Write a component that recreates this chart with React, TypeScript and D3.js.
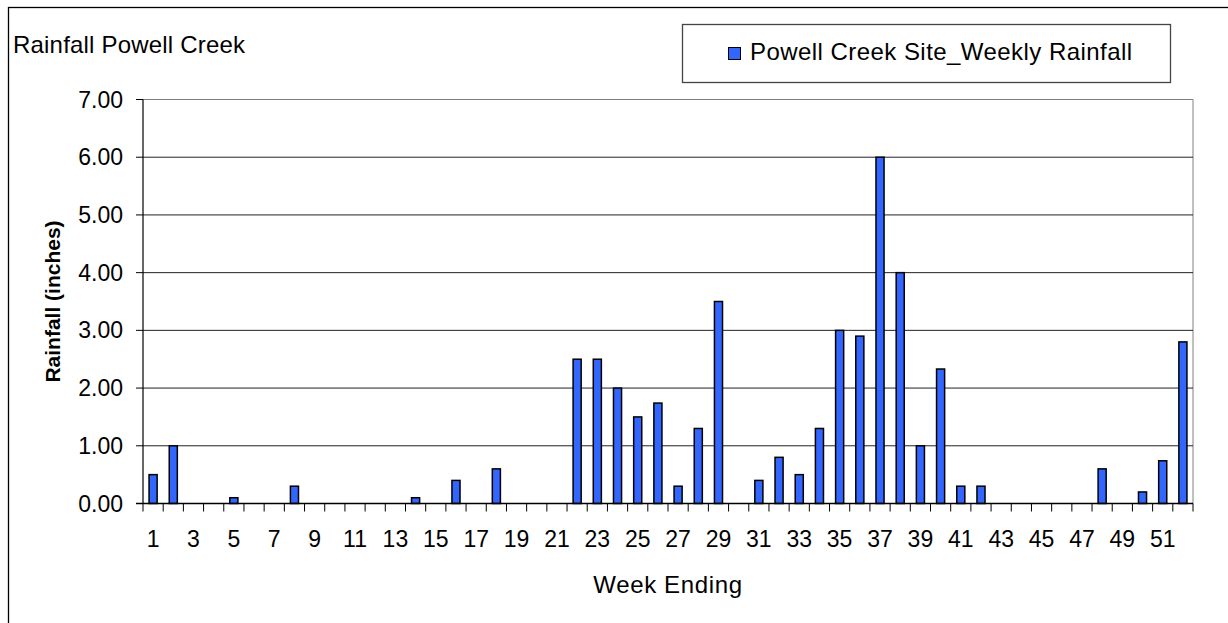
import React from 'react';
import * as d3 from 'd3';

const weeks: number[] = [1,2,3,4,5,6,7,8,9,10,11,12,13,14,15,16,17,18,19,20,21,22,23,24,25,26,27,28,29,30,31,32,33,34,35,36,37,38,39,40,41,42,43,44,45,46,47,48,49,50,51,52];
const rainfall: number[] = [0.5,1.0,0,0,0.1,0,0,0.3,0,0,0,0,0,0.1,0,0.4,0,0.6,0,0,0,2.5,2.5,2.0,1.5,1.74,0.3,1.3,3.5,0,0.4,0.8,0.5,1.3,3.0,2.9,6.0,4.0,1.0,2.33,0.3,0.3,0,0,0,0,0,0.6,0,0.2,0.74,2.8];
const yTicks: number[] = [0,1,2,3,4,5,6,7];
const xLabelWeeks: number[] = [1,3,5,7,9,11,13,15,17,19,21,23,25,27,29,31,33,35,37,39,41,43,45,47,49,51];

const title = 'Rainfall Powell Creek';
const seriesName = 'Powell Creek Site_Weekly Rainfall';
const xTitle = 'Week Ending';
const yTitle = 'Rainfall (inches)';

const W = 1228, H = 623;
const left = 143, right = 1193, top = 99.5, bottom = 503.5;
const font = '"Liberation Sans", Arial, sans-serif';
const FS = 23;
const barColor = '#3366FF';

export default function App() {
  const x = d3.scaleBand<number>().domain(weeks).range([left, right]).paddingInner(0.6).paddingOuter(0.3);
  const y = d3.scaleLinear().domain([0, 7]).range([bottom, top]);
  const step = x.step();
  const bw = x.bandwidth();
  const boundaries = d3.range(weeks.length + 1).map(i => left + i * step);

  return (
    <svg width={W} height={H} style={{ position: 'absolute', left: 0, top: 0, background: '#fff' }}>
      <rect x={8.5} y={7.5} width={1400} height={800} fill="#fff" stroke="#000" strokeWidth={1.3} />
      <text x={13} y={53} fontFamily={font} fontSize={24} letterSpacing={0.2} fill="#000">{title}</text>

      {/* legend */}
      <rect x={682.5} y={24.5} width={488} height={58} fill="#fff" stroke="#444" strokeWidth={1.3} />
      <rect x={728.5} y={47.5} width={12} height={12} fill={barColor} stroke="#000" strokeWidth={1} />
      <text x={750} y={60} fontFamily={font} fontSize={24} letterSpacing={0.45} fill="#000">{seriesName}</text>

      {/* plot border */}
      <line x1={left} x2={right} y1={top} y2={top} stroke="#808080" strokeWidth={1} />
      <line x1={right} x2={right} y1={top} y2={bottom} stroke="#808080" strokeWidth={1} />

      {/* gridlines */}
      {yTicks.filter(t => t > 0 && t < 7).map(t => (
        <line key={'g' + t} x1={left} x2={right} y1={y(t)} y2={y(t)} stroke="#222" strokeWidth={1} />
      ))}

      {/* bars */}
      {weeks.map((w, i) => rainfall[i] > 0 ? (
        <rect key={'b' + w} x={x(w)!} y={y(rainfall[i])} width={bw} height={y(0) - y(rainfall[i])}
          fill={barColor} stroke="#000" strokeWidth={1.5} />
      ) : null)}

      {/* axes */}
      <line x1={left} x2={left} y1={top} y2={bottom} stroke="#000" strokeWidth={1.2} />
      <line x1={left - 7} x2={right} y1={bottom} y2={bottom} stroke="#000" strokeWidth={1.5} />
      {yTicks.map(t => (
        <g key={'y' + t}>
          <line x1={left - 7} x2={left} y1={y(t)} y2={y(t)} stroke="#000" strokeWidth={1} />
          <text x={123} y={y(t)} dy="0.35em" textAnchor="end" fontFamily={font} fontSize={FS} fill="#000">{t.toFixed(2)}</text>
        </g>
      ))}
      {boundaries.map((bx, i) => (
        <line key={'xt' + i} x1={bx} x2={bx} y1={bottom} y2={bottom + 8} stroke="#000" strokeWidth={1} />
      ))}
      {xLabelWeeks.map(w => (
        <text key={'xl' + w} x={x(w)! + bw / 2} y={547} textAnchor="middle" fontFamily={font} fontSize={FS} fill="#000">{w}</text>
      ))}
      <text x={(left + right) / 2} y={593} textAnchor="middle" fontFamily={font} fontSize={24} letterSpacing={0.65} fill="#000">{xTitle}</text>
      <text transform={`translate(60, ${(top + bottom) / 2}) rotate(-90)`} textAnchor="middle" fontFamily={font} fontSize={21} fontWeight="bold" fill="#000">{yTitle}</text>
    </svg>
  );
}
